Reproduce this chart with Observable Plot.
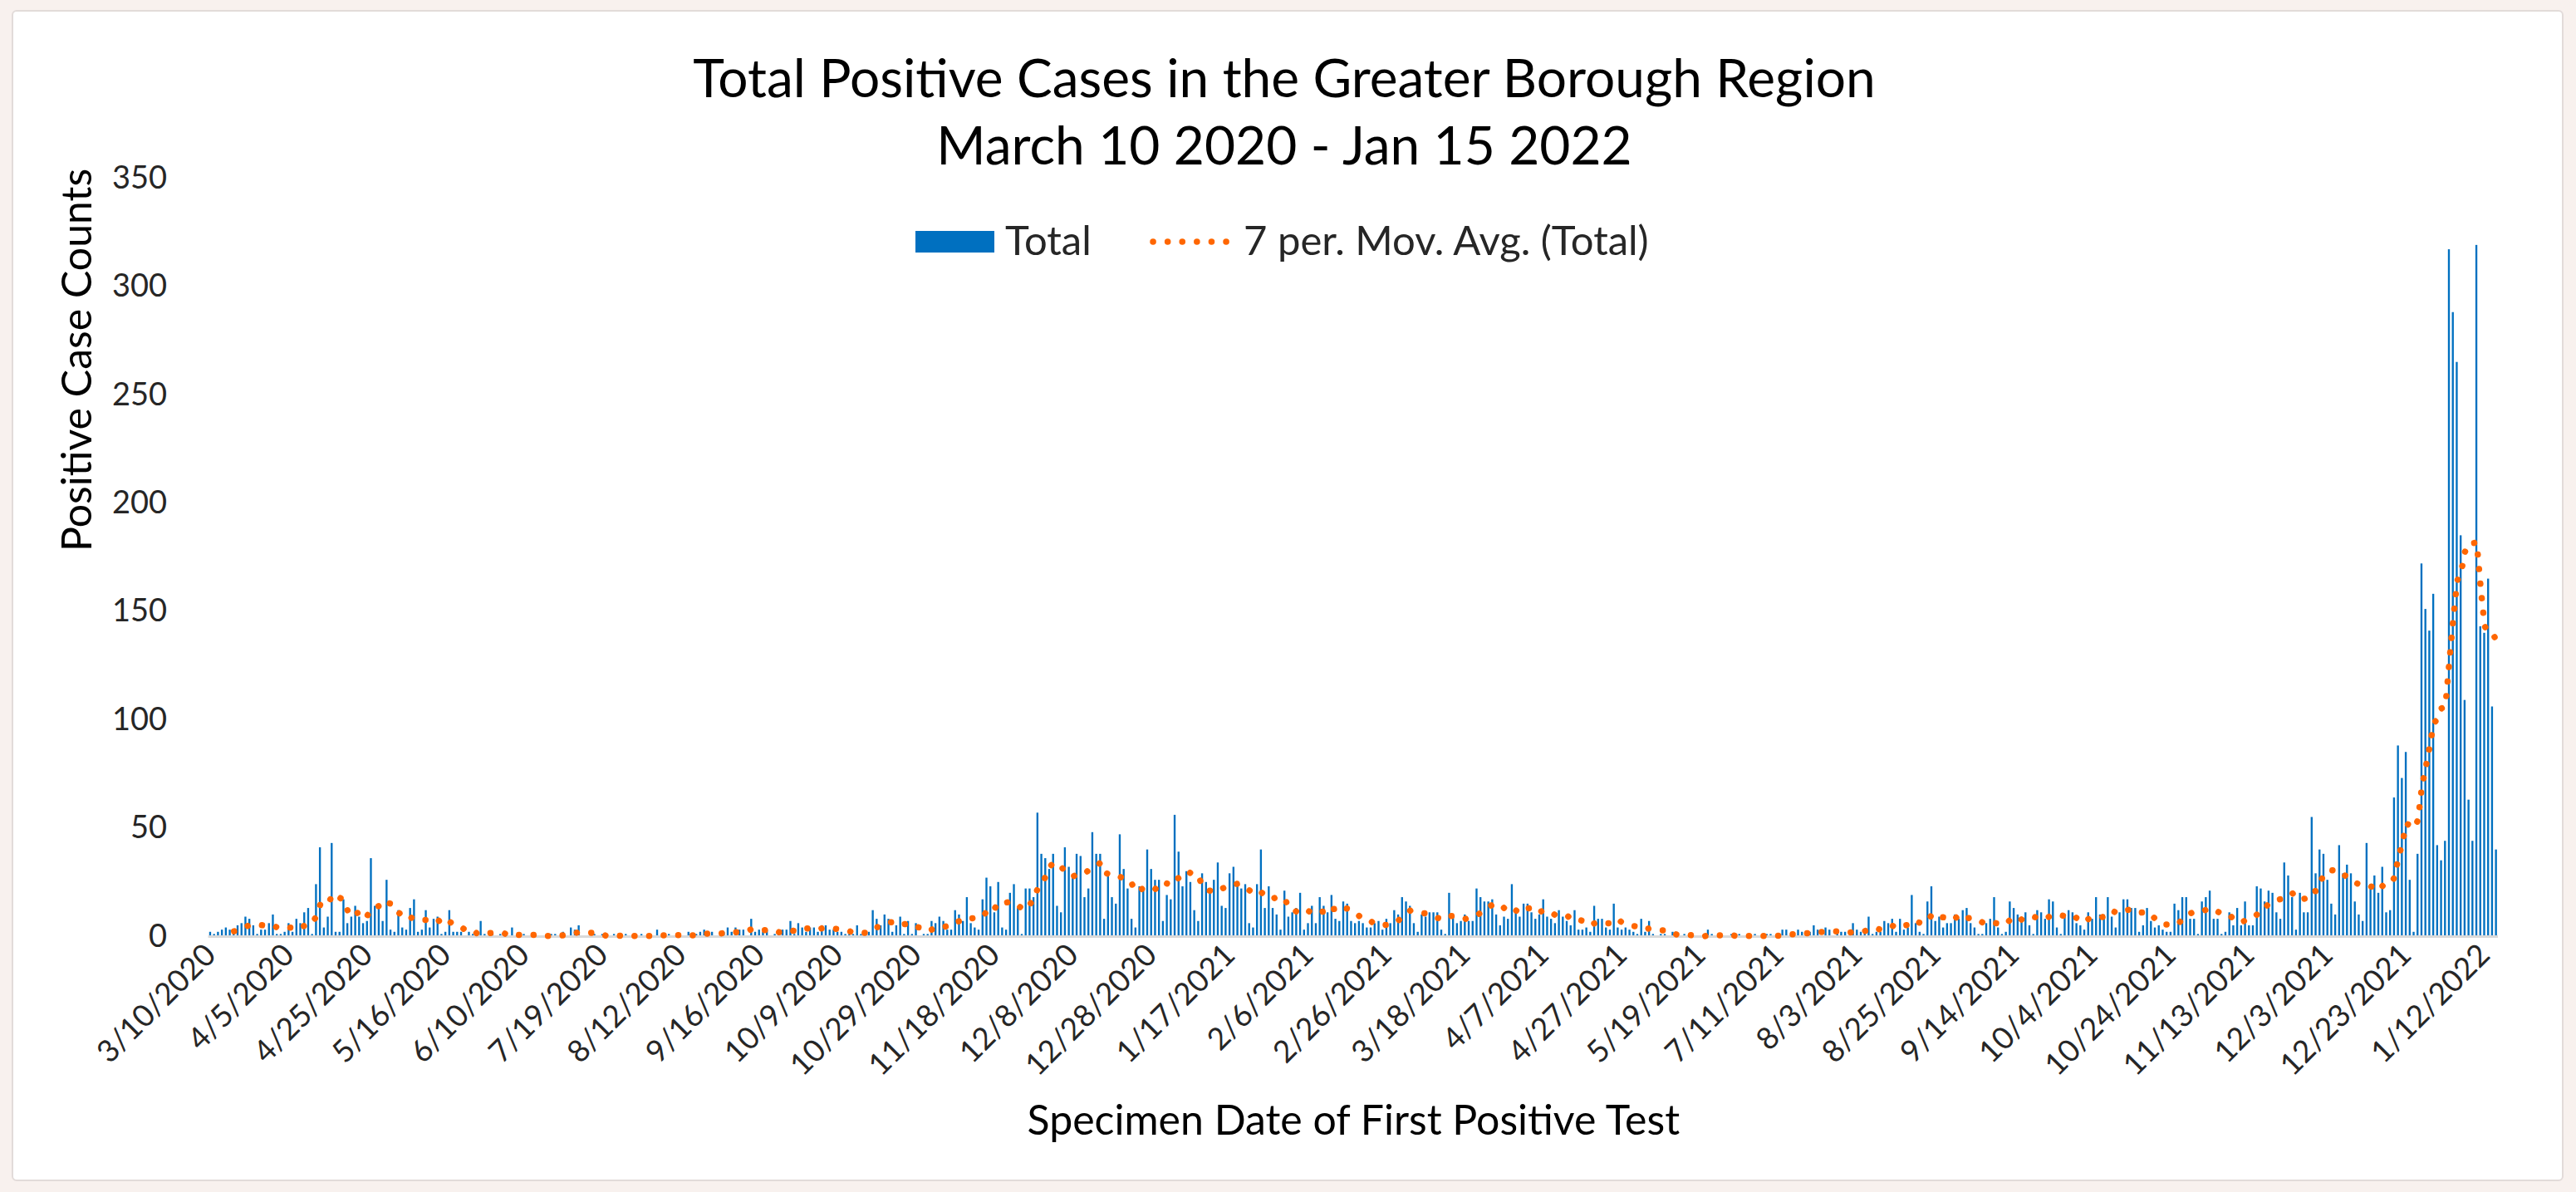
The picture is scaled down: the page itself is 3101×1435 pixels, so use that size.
<!DOCTYPE html>
<html><head><meta charset="utf-8">
<script src="https://cdn.jsdelivr.net/npm/d3@7"></script>
<script src="https://cdn.jsdelivr.net/npm/@observablehq/plot@0.6"></script>
<style>
html,body{margin:0;padding:0;}
body{width:3101px;height:1435px;background:#f8f1ee;position:relative;overflow:hidden;font-family:Lato,"Open Sans",sans-serif;}
#panel{position:absolute;left:14px;top:12px;width:3068px;height:1406px;background:#fff;border:2px solid #e2dbd9;border-radius:6px;}
#title{position:absolute;left:0;top:52px;width:3092px;text-align:center;font-size:64px;line-height:81px;color:#000;z-index:2;}
#chart{position:absolute;left:0;top:150px;z-index:1;}
.leg{position:absolute;z-index:3;font-size:49px;color:#262626;line-height:1;}
</style>
</head><body>
<div id="panel"></div>
<div id="title">Total Positive Cases in the Greater Borough Region<br>March 10 2020 - Jan 15 2022</div>
<div class="leg" style="left:1102px;top:278px;width:95px;height:26px;background:#0070C0;"></div>
<div class="leg" style="left:1210px;top:264px;">Total</div>
<svg class="leg" style="left:1382px;top:280px;" width="106" height="22"><line x1="6" y1="11" x2="100" y2="11" stroke="#FF6600" stroke-width="7.5" stroke-linecap="round" stroke-dasharray="0.1 17.5"/></svg>
<div class="leg" style="left:1497px;top:264px;">7 per. Mov. Avg. (Total)</div>
<div id="chart"></div>
<script>
// Daily positive case totals (one category per reported specimen date)
const totals = [
2,1,2,3,4,3,2,5,6,9, 8,5,1,3,3,6,10,1,1,2, 6,2,8,6,11,13,1,24,41,4, 9,43,2,2,17,6,9,14,9,6, 7,36,14,13,7,26,3,2,12,
4,3,13,17,2,3,12,4,8,9, 1,2,12,2,2,2,0,2,1,0, 7,1,0,1,0,1,0,0,4,0, 0,1,0,0,1,0,0,0,1,1, 0,2,0,4,3,5,0,0,
0,1,0,1,0,0,1,0,0,1, 0,0,0,1,0,0,0,3,0,0, 1,0,1,0,0,2,0,1,2,3, 2,2,0,0,2,4,2,4,3,3, 0,8,2,3,2,3,0,1,
3,3,3,7,1,6,4,2,4,4, 2,5,5,3,3,2,2,1,1,1, 5,1,1,2,12,8,5,10,8,2, 5,9,1,7,1,6,0,1,1,7, 6,9,7,3,3,12,10,7,18,
6,4,3,17,27,23,11,25,4,3, 20,24,13,1,22,22,18,57,38,36, 31,38,14,11,41,32,27,38,37,18, 22,48,38,38,8,29,18,15,47,31, 22,8,4,23,22,40,31,26,26,
7,19,17,56,39,23,30,25,12,7, 29,25,20,26,34,14,13,29,32,23, 22,24,6,4,24,40,13,23,13,10, 3,21,9,11,13,20,3,6,14,6, 18,14,11,19,8,7,16,15,7,
6,7,6,4,4,6,7,3,8,6, 12,10,18,16,14,6,2,10,9,11, 11,11,3,1,20,10,6,7,10,7, 7,22,18,16,16,17,10,5,9,8, 24,11,9,15,15,11,8,10,17,
9,8,6,12,9,7,5,12,3,3, 4,2,14,8,8,4,3,15,4,3, 4,3,2,1,8,2,7,1,0,1, 1,0,2,1,0,1,0,0,0,0, 0,3,1,0,0,0,0,
1,0,1,0,0,0,1,0,0,1, 1,0,0,3,3,0,0,3,2,0, 2,5,3,0,4,3,0,2,2,2, 0,6,3,2,3,9,1,2,2,7, 6,8,2,8,3,4,19,6,2,1,
16,23,7,9,4,6,6,10,8,12, 13,6,4,1,1,6,8,18,4,1, 2,16,13,10,8,11,5,1,12,11, 8,17,16,4,1,9,12,11,6,5, 3,11,8,18,10,10,18,9,4,11,
17,17,13,13,2,5,13,7,4,5, 3,2,2,15,12,18,18,8,8,1, 16,18,21,8,8,1,2,11,5,13, 5,16,5,5,23,22,16,21,20,11, 8,34,28,18,3,20,11,11,
55,29,40,38,26,15,10,42,29,33, 29,16,10,7,43,24,28,20,32,11, 12,64,88,73,85,26,2,38,172,151, 141,158,42,35,44,317,288,265,185,109, 63,44,319,143,140,165,106,40
];
// Category tick labels, one every 20 categories
const tickLabels = ["3/10/2020","4/5/2020","4/25/2020","5/16/2020","6/10/2020","7/19/2020","8/12/2020","9/16/2020","10/9/2020","10/29/2020","11/18/2020","12/8/2020","12/28/2020","1/17/2021","2/6/2021","2/26/2021","3/18/2021","4/7/2021","4/27/2021","5/19/2021","7/11/2021","8/3/2021","8/25/2021","9/14/2021","10/4/2021","10/24/2021","11/13/2021","12/3/2021","12/23/2021","1/12/2022"];
const tickEvery = 20;
const yTicks = [0,50,100,150,200,250,300,350];

const categories = totals.map((_, i) => i);
const data = totals.map((v, i) => ({cat: categories[i], total: v}));

const chart = Plot.plot({
  width: 3101,
  height: 1285,
  marginLeft: 250.6,
  marginRight: 94,
  marginTop: 64,
  marginBottom: 308,
  style: {background: "transparent", fontFamily: "Lato, 'Open Sans', sans-serif", color: "#262626", overflow: "visible"},
  x: {type: "band", domain: categories, paddingInner: 0.5, paddingOuter: 0.25, round: false, axis: null},
  y: {domain: [0, 350], axis: null},
  marks: [
    Plot.axisY({ticks: yTicks, tickSize: 0, tickPadding: 50, fontSize: 38, label: null}),
    Plot.axisX({ticks: categories.filter(i => i % tickEvery === 0), tickFormat: i => tickLabels[i / tickEvery], tickRotate: -45, tickSize: 0, tickPadding: 16, fontSize: 37, label: null}),
    Plot.barY(data, {x: "cat", y: "total", fill: "#0070C0"}),
    Plot.ruleY([0], {stroke: "#d9d9d9", strokeWidth: 3}),
    Plot.lineY(data, Plot.windowY({k: 7, anchor: "end", strict: true}, {x: "cat", y: "total", stroke: "#FF6600", strokeWidth: 7.5, strokeDasharray: "0.1 17.5", strokeLinecap: "round"})),
    Plot.text(["Positive Case Counts"], {frameAnchor: "left", rotate: -90, dx: -157, dy: -7, fontSize: 50, fill: "#000"}),
    Plot.text(["Specimen Date of First Positive Test"], {frameAnchor: "bottom", dy: 238, fontSize: 50, fill: "#000"})
  ]
});
document.getElementById("chart").appendChild(chart);
</script>
</body></html>
